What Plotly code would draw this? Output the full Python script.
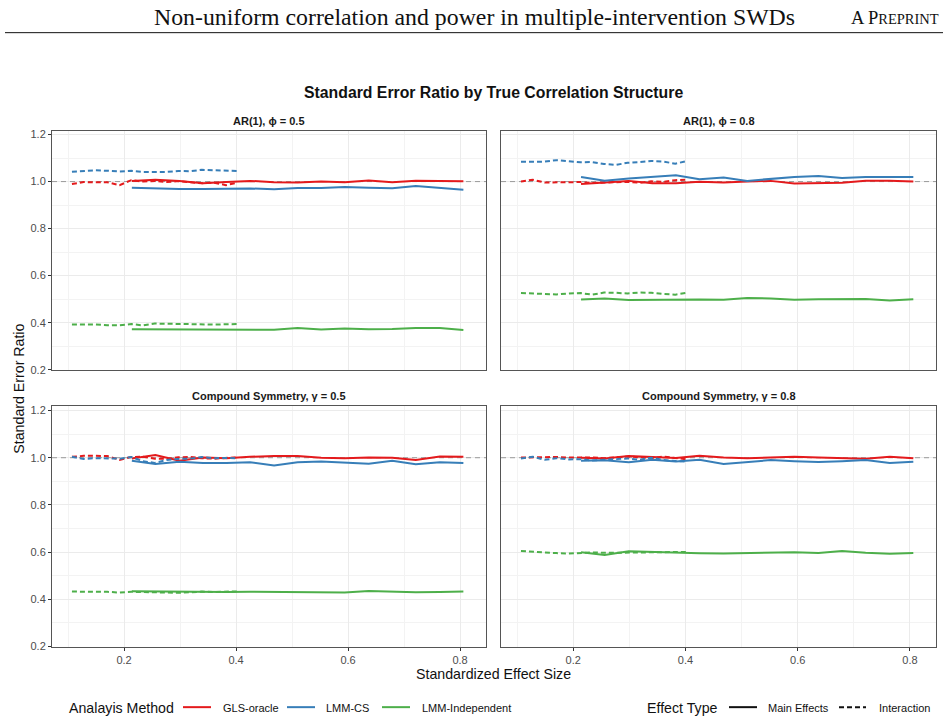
import plotly.graph_objects as go

# ---------------- data ----------------
x_main = [0.214, 0.256, 0.299, 0.341, 0.383, 0.425, 0.468, 0.510, 0.552, 0.594, 0.637, 0.679, 0.721, 0.764, 0.806]
x_inter = [0.107, 0.128, 0.149, 0.170, 0.192, 0.213, 0.234, 0.255, 0.276, 0.297, 0.318, 0.339, 0.361, 0.382, 0.403]

panels = ["AR(1), \u03d5 = 0.5", "AR(1), \u03d5 = 0.8", "Compound Symmetry, \u03b3 = 0.5", "Compound Symmetry, \u03b3 = 0.8"]
methods = ["GLS-oracle", "LMM-CS", "LMM-Independent"]
effect_types = ["Main Effects", "Interaction"]

# AR(1) phi = 0.5
ar5_gls_main = [1.002, 1.008, 1.002, 0.993, 0.998, 1.003, 0.997, 0.996, 1.000, 0.997, 1.005, 0.997, 1.004, 1.003, 1.001]
ar5_gls_inter = [0.990, 0.998, 0.997, 0.997, 0.985, 1.006, 1.000, 1.003, 0.998, 1.002, 0.997, 0.993, 0.995, 0.985, 0.995]
ar5_cs_main = [0.974, 0.970, 0.968, 0.969, 0.971, 0.971, 0.967, 0.973, 0.973, 0.977, 0.974, 0.972, 0.981, 0.973, 0.965]
ar5_cs_inter = [1.042, 1.046, 1.048, 1.046, 1.043, 1.046, 1.041, 1.041, 1.041, 1.045, 1.044, 1.050, 1.048, 1.045, 1.045]
ar5_ind_main = [0.372, 0.372, 0.371, 0.371, 0.371, 0.370, 0.370, 0.377, 0.371, 0.375, 0.372, 0.373, 0.377, 0.377, 0.369]
ar5_ind_inter = [0.392, 0.393, 0.392, 0.389, 0.389, 0.394, 0.388, 0.396, 0.395, 0.394, 0.393, 0.391, 0.392, 0.393, 0.394]

# AR(1) phi = 0.8
ar8_gls_main = [0.990, 0.995, 1.003, 0.993, 0.993, 0.999, 0.996, 1.000, 1.003, 0.992, 0.995, 0.995, 1.004, 1.004, 1.000]
ar8_gls_inter = [1.000, 1.008, 0.996, 0.997, 0.999, 0.998, 0.994, 0.996, 1.000, 0.999, 0.995, 1.001, 0.999, 1.006, 1.008]
ar8_cs_main = [1.020, 1.004, 1.013, 1.020, 1.027, 1.010, 1.017, 1.003, 1.012, 1.020, 1.024, 1.015, 1.020, 1.018, 1.019]
ar8_cs_inter = [1.084, 1.084, 1.085, 1.091, 1.087, 1.082, 1.083, 1.075, 1.071, 1.080, 1.083, 1.088, 1.085, 1.076, 1.088]
ar8_ind_main = [0.499, 0.503, 0.496, 0.498, 0.498, 0.499, 0.497, 0.505, 0.503, 0.497, 0.500, 0.500, 0.501, 0.494, 0.500]
ar8_ind_inter = [0.526, 0.524, 0.525, 0.520, 0.524, 0.526, 0.519, 0.528, 0.527, 0.524, 0.528, 0.527, 0.522, 0.519, 0.527]

# Compound symmetry gamma = 0.5
cs5_gls_main = [0.997, 1.011, 0.987, 1.001, 0.998, 1.004, 1.007, 1.007, 1.000, 0.998, 1.001, 1.000, 0.990, 1.005, 1.004]
cs5_gls_inter = [1.004, 1.008, 1.008, 1.007, 0.991, 1.003, 1.004, 0.996, 0.995, 1.002, 1.003, 0.998, 0.996, 1.000, 1.002]
cs5_cs_main = [0.987, 0.973, 0.983, 0.978, 0.978, 0.981, 0.967, 0.981, 0.984, 0.980, 0.975, 0.987, 0.972, 0.981, 0.978]
cs5_cs_inter = [1.004, 0.995, 0.998, 0.998, 0.996, 1.003, 0.985, 0.978, 0.990, 0.995, 0.996, 1.003, 0.998, 0.999, 0.998]
cs5_ind_main = [0.434, 0.433, 0.432, 0.430, 0.431, 0.432, 0.432, 0.431, 0.430, 0.429, 0.436, 0.433, 0.430, 0.431, 0.433]
cs5_ind_inter = [0.433, 0.433, 0.432, 0.432, 0.429, 0.432, 0.431, 0.429, 0.428, 0.428, 0.430, 0.433, 0.431, 0.434, 0.434]

# Compound symmetry gamma = 0.8
cs8_gls_main = [1.000, 0.997, 1.007, 1.003, 0.999, 1.008, 1.001, 0.998, 1.000, 1.004, 1.001, 0.999, 0.996, 1.004, 0.998]
cs8_gls_inter = [1.001, 1.002, 1.000, 1.003, 1.001, 1.002, 1.001, 0.998, 1.000, 1.005, 1.002, 0.998, 1.005, 0.998, 0.993]
cs8_cs_main = [0.987, 0.989, 0.981, 0.991, 0.984, 0.991, 0.973, 0.983, 0.990, 0.985, 0.982, 0.985, 0.990, 0.978, 0.983]
cs8_cs_inter = [0.997, 1.004, 0.991, 0.998, 0.993, 0.994, 0.988, 0.991, 0.995, 0.997, 0.991, 1.000, 0.990, 0.988, 0.983]
cs8_ind_main = [0.600, 0.588, 0.604, 0.601, 0.595, 0.595, 0.594, 0.597, 0.597, 0.600, 0.596, 0.605, 0.597, 0.593, 0.596]
cs8_ind_inter = [0.605, 0.601, 0.598, 0.596, 0.594, 0.596, 0.599, 0.597, 0.598, 0.596, 0.599, 0.601, 0.600, 0.603, 0.601]

panel_data = [
    {"GLS-oracle": (ar5_gls_main, ar5_gls_inter), "LMM-CS": (ar5_cs_main, ar5_cs_inter), "LMM-Independent": (ar5_ind_main, ar5_ind_inter)},
    {"GLS-oracle": (ar8_gls_main, ar8_gls_inter), "LMM-CS": (ar8_cs_main, ar8_cs_inter), "LMM-Independent": (ar8_ind_main, ar8_ind_inter)},
    {"GLS-oracle": (cs5_gls_main, cs5_gls_inter), "LMM-CS": (cs5_cs_main, cs5_cs_inter), "LMM-Independent": (cs5_ind_main, cs5_ind_inter)},
    {"GLS-oracle": (cs8_gls_main, cs8_gls_inter), "LMM-CS": (cs8_cs_main, cs8_cs_inter), "LMM-Independent": (cs8_ind_main, cs8_ind_inter)},
]

x_ticks = [0.2, 0.4, 0.6, 0.8]
y_ticks = [0.2, 0.4, 0.6, 0.8, 1.0, 1.2]

# ---------------- styling ----------------
W, H = 948, 727
colors = {"GLS-oracle": "#E41A1C", "LMM-CS": "#377EB8", "LMM-Independent": "#4DAF4A"}
dash_inter = "5px,3px"
FONT = "Liberation Sans, Arial, sans-serif"

def px_x(p):
    return p / W

def px_y(p):
    return 1 - p / H

x_dom = [(px_x(52), px_x(486)), (px_x(501), px_x(936))]
y_dom = [(px_y(372), px_y(130)), (px_y(652), px_y(409))]
x_range = [0.0714, 0.8464]
y_range = [0.199, 1.217]

fig = go.Figure()

for i in range(4):
    ax = "" if i == 0 else str(i + 1)
    # reference line at 1
    fig.add_trace(go.Scatter(x=x_range, y=[1, 1], mode="lines",
                             line=dict(color="#999999", width=1, dash="5px,4px"),
                             xaxis="x" + ax, yaxis="y" + ax, showlegend=False, hoverinfo="skip"))
    for m in methods:
        main, inter = panel_data[i][m]
        fig.add_trace(go.Scatter(x=x_main, y=main, mode="lines",
                                 line=dict(color=colors[m], width=2),
                                 xaxis="x" + ax, yaxis="y" + ax, showlegend=False, name=m))
        fig.add_trace(go.Scatter(x=x_inter, y=inter, mode="lines",
                                 line=dict(color=colors[m], width=2, dash=dash_inter),
                                 xaxis="x" + ax, yaxis="y" + ax, showlegend=False, name=m))

layout = dict(
    width=W, height=H, margin=dict(l=0, r=0, t=0, b=0),
    paper_bgcolor="white", plot_bgcolor="white",
    font=dict(family=FONT, color="#222"),
    showlegend=False,
)

for i in range(4):
    col, row = i % 2, i // 2
    ax = "" if i == 0 else str(i + 1)
    show_y = col == 0
    show_x = row == 1
    layout["xaxis" + ax] = dict(
        domain=x_dom[col], range=x_range, anchor="y" + ax,
        tickvals=x_ticks, ticktext=[f"{v:.1f}" for v in x_ticks],
        showticklabels=show_x, ticks="outside" if show_x else "", ticklen=3, tickcolor="#333",
        tickfont=dict(size=11, color="#4D4D4D"),
        showgrid=True, gridcolor="#EBEBEB", gridwidth=1,
        minor=dict(tickvals=[0.1, 0.3, 0.5, 0.7], showgrid=True, gridcolor="#F3F3F3", gridwidth=0.6, ticks=""),
        showline=True, mirror=True, linecolor="#555", linewidth=1, zeroline=False,
    )
    layout["yaxis" + ax] = dict(
        domain=y_dom[row], range=y_range, anchor="x" + ax,
        tickvals=y_ticks, ticktext=[f"{v:.1f}" for v in y_ticks],
        showticklabels=show_y, ticks="outside" if show_y else "", ticklen=3, tickcolor="#333",
        tickfont=dict(size=11, color="#4D4D4D"),
        showgrid=True, gridcolor="#EBEBEB", gridwidth=1,
        minor=dict(tickvals=[0.3, 0.5, 0.7, 0.9, 1.1], showgrid=True, gridcolor="#F3F3F3", gridwidth=0.6, ticks=""),
        showline=True, mirror=True, linecolor="#555", linewidth=1, zeroline=False,
    )

annotations = []
# header
annotations.append(dict(x=px_x(474), y=px_y(15), xref="paper", yref="paper", showarrow=False,
                        text="Non-uniform correlation and power in multiple-intervention SWDs",
                        font=dict(family="Liberation Serif, Times New Roman, serif", size=23.8, color="#111"),
                        xanchor="center", yanchor="middle"))
annotations.append(dict(x=px_x(941), y=px_y(16), xref="paper", yref="paper", showarrow=False,
                        text="A P<span style='font-size:14.5px'>REPRINT</span>",
                        font=dict(family="Liberation Serif, Times New Roman, serif", size=18.5, color="#111"),
                        xanchor="right", yanchor="middle"))
# title
annotations.append(dict(x=px_x(494), y=px_y(92), xref="paper", yref="paper", showarrow=False,
                        text="<b>Standard Error Ratio by True Correlation Structure</b>",
                        font=dict(family=FONT, size=15.8, color="#111"), xanchor="center", yanchor="middle"))
# strips
strip_y = [120, 398]
strip_x = [269, 718.5]
for i, t in enumerate(panels):
    col, row = i % 2, i // 2
    annotations.append(dict(x=px_x(strip_x[col]), y=px_y(strip_y[row]), xref="paper", yref="paper",
                            showarrow=False, text="<b>" + t + "</b>",
                            font=dict(family=FONT, size=11, color="#1A1A1A"),
                            xanchor="center", yanchor="middle"))
# axis titles
annotations.append(dict(x=px_x(494), y=px_y(679), xref="paper", yref="paper", showarrow=False,
                        text="Standardized Effect Size", font=dict(family=FONT, size=14.2, color="#111"),
                        xanchor="center", yanchor="middle"))
annotations.append(dict(x=px_x(19), y=px_y(391), xref="paper", yref="paper", showarrow=False,
                        text="Standard Error Ratio", textangle=-90, font=dict(family=FONT, size=14.2, color="#111"),
                        xanchor="center", yanchor="middle"))

# legend
shapes = []
leg_y = 714
annotations.append(dict(x=px_x(67), y=px_y(leg_y), xref="paper", yref="paper", showarrow=False,
                        text="Analayis Method", font=dict(family=FONT, size=14.2, color="#111"),
                        xanchor="left", yanchor="middle"))
leg_items = [("GLS-oracle", 183, 221), ("LMM-CS", 287, 324), ("LMM-Independent", 382, 420)]
for m, lx, tx in leg_items:
    shapes.append(dict(type="line", xref="paper", yref="paper", x0=px_x(lx), x1=px_x(lx + 28),
                       y0=px_y(leg_y - 1), y1=px_y(leg_y - 1), line=dict(color=colors[m], width=2)))
    annotations.append(dict(x=px_x(tx), y=px_y(leg_y), xref="paper", yref="paper", showarrow=False,
                            text=m, font=dict(family=FONT, size=11, color="#111"),
                            xanchor="left", yanchor="middle"))
annotations.append(dict(x=px_x(645), y=px_y(leg_y), xref="paper", yref="paper", showarrow=False,
                        text="Effect Type", font=dict(family=FONT, size=14.2, color="#111"),
                        xanchor="left", yanchor="middle"))
et_items = [("Main Effects", 729, 766, 28, "solid"), ("Interaction", 839, 877, 27, dash_inter)]
for t, lx, tx, ln, d in et_items:
    shapes.append(dict(type="line", xref="paper", yref="paper", x0=px_x(lx), x1=px_x(lx + ln),
                       y0=px_y(leg_y - 1), y1=px_y(leg_y - 1), line=dict(color="#111", width=2, dash=d)))
    annotations.append(dict(x=px_x(tx), y=px_y(leg_y), xref="paper", yref="paper", showarrow=False,
                            text=t, font=dict(family=FONT, size=11, color="#111"),
                            xanchor="left", yanchor="middle"))

# header rule
shapes.append(dict(type="line", xref="paper", yref="paper", x0=px_x(5), x1=px_x(943),
                   y0=px_y(31), y1=px_y(31), line=dict(color="#111", width=1)))

layout["annotations"] = annotations
layout["shapes"] = shapes
fig.update_layout(**layout)
fig.write_html("out.html")
